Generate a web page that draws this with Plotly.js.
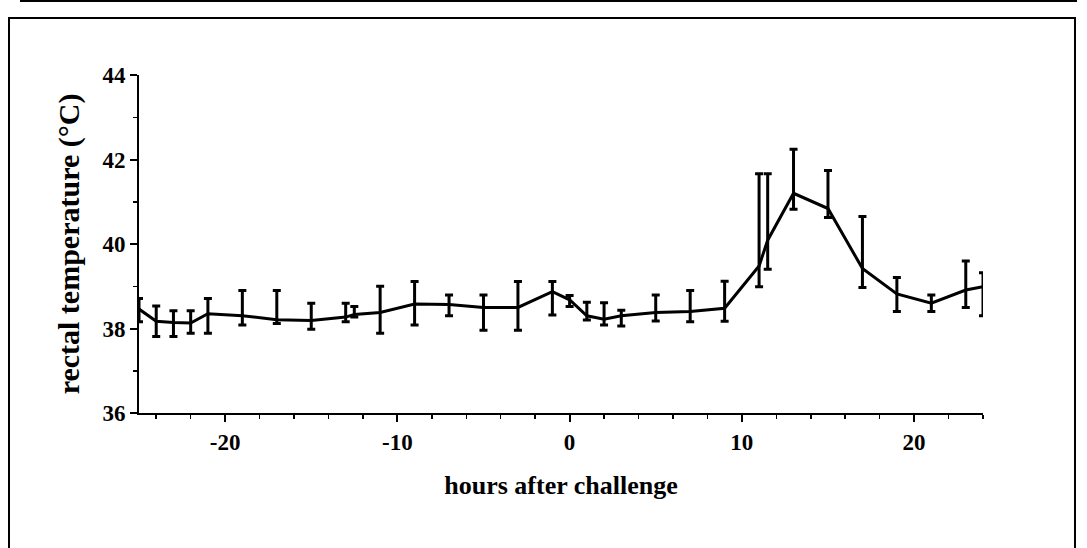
<!DOCTYPE html>
<html>
<head>
<meta charset="utf-8">
<script src="https://cdn.plot.ly/plotly-3.0.1.min.js"></script>
<style>html,body{margin:0;padding:0;background:#fff;}#chart{width:1087px;height:548px;}</style>
</head>
<body>
<div id="chart"></div>
<script>
// hours after challenge
var hours = [-25,-24,-23,-22,-21,-19,-17,-15,-13,-12.5,-11,-9,-7,-5,-3,-1,0,1,2,3,5,7,9,11,11.5,13,15,17,19,21,23,24];
// mean rectal temperature (°C)
var temp = [38.46,38.17,38.14,38.13,38.35,38.30,38.21,38.19,38.27,38.33,38.38,38.58,38.57,38.50,38.50,38.87,38.68,38.30,38.22,38.30,38.38,38.40,38.48,39.48,40.09,41.20,40.84,39.42,38.82,38.60,38.91,38.99];
// error bar extent above the mean
var errUp = [0.25,0.36,0.28,0.29,0.36,0.60,0.69,0.41,0.33,0.19,0.62,0.53,0.22,0.29,0.61,0.24,0.10,0.32,0.39,0.13,0.41,0.50,0.64,2.18,1.57,1.04,0.90,1.23,0.39,0.19,0.69,0.33];
// error bar extent below the mean
var errDown = [0.30,0.36,0.33,0.24,0.46,0.22,0.09,0.21,0.11,0.06,0.49,0.50,0.27,0.54,0.54,0.55,0.16,0.10,0.14,0.24,0.20,0.24,0.31,0.49,0.69,0.38,0.21,0.45,0.42,0.20,0.41,0.69];
var yTicks = [36,38,40,42,44];
var xTicks = [-20,-10,0,10,20];

var fontFam = '"Liberation Serif", "Times New Roman", serif';

var trace = {
  x: hours, y: temp, type: 'scatter', mode: 'lines',
  line: {color: '#000', width: 3},
  cliponaxis: false,
  error_y: {type: 'data', symmetric: false, array: errUp, arrayminus: errDown,
            color: '#000', thickness: 3, width: 4},
  hoverinfo: 'x+y'
};

var layout = {
  width: 1087, height: 548,
  margin: {l: 139, r: 104, t: 75, b: 135},
  paper_bgcolor: '#fff', plot_bgcolor: '#fff',
  showlegend: false,
  font: {family: fontFam, color: '#000'},
  xaxis: {
    range: [-25, 24], tickmode: 'array', tickvals: xTicks, ticktext: xTicks.map(String),
    showgrid: false, zeroline: false, showline: true, linecolor: '#000', linewidth: 2,
    ticks: 'outside', ticklen: 7, tickwidth: 2, tickcolor: '#000',
    minor: {dtick: 2, tick0: 0, ticks: 'outside', ticklen: 4, tickwidth: 1.5, tickcolor: '#000', showgrid: false},
    tickfont: {family: fontFam, size: 23, weight: 'bold', color: '#000'},
    title: {text: 'hours after challenge', font: {family: fontFam, size: 26, weight: 'bold', color: '#000'}, standoff: 22},
    automargin: false, fixedrange: true
  },
  yaxis: {
    range: [36, 44], tickmode: 'array', tickvals: yTicks, ticktext: yTicks.map(String),
    showgrid: false, zeroline: false, showline: true, linecolor: '#000', linewidth: 2,
    ticks: 'outside', ticklen: 7, tickwidth: 2, tickcolor: '#000',
    minor: {dtick: 1, tick0: 0, ticks: 'outside', ticklen: 4, tickwidth: 1.5, tickcolor: '#000', showgrid: false},
    tickfont: {family: fontFam, size: 23, weight: 'bold', color: '#000'},
    title: {text: 'rectal temperature (°C)', font: {family: fontFam, size: 30, weight: 'bold', color: '#000'}, standoff: 14},
    automargin: false, fixedrange: true
  },
  shapes: [
    {type: 'line', xref: 'paper', yref: 'paper', x0: (20-139)/844, x1: (1077-139)/844, y0: (413-1)/338, y1: (413-1)/338, line: {color: '#000', width: 2}},
    {type: 'rect', xref: 'paper', yref: 'paper', x0: (9-139)/844, x1: (1075-139)/844, y0: (413-18)/338, y1: (413-560)/338, line: {color: '#000', width: 2}}
  ]
};

Plotly.newPlot('chart', [trace], layout, {displayModeBar: false, staticPlot: true});
</script>
</body>
</html>
